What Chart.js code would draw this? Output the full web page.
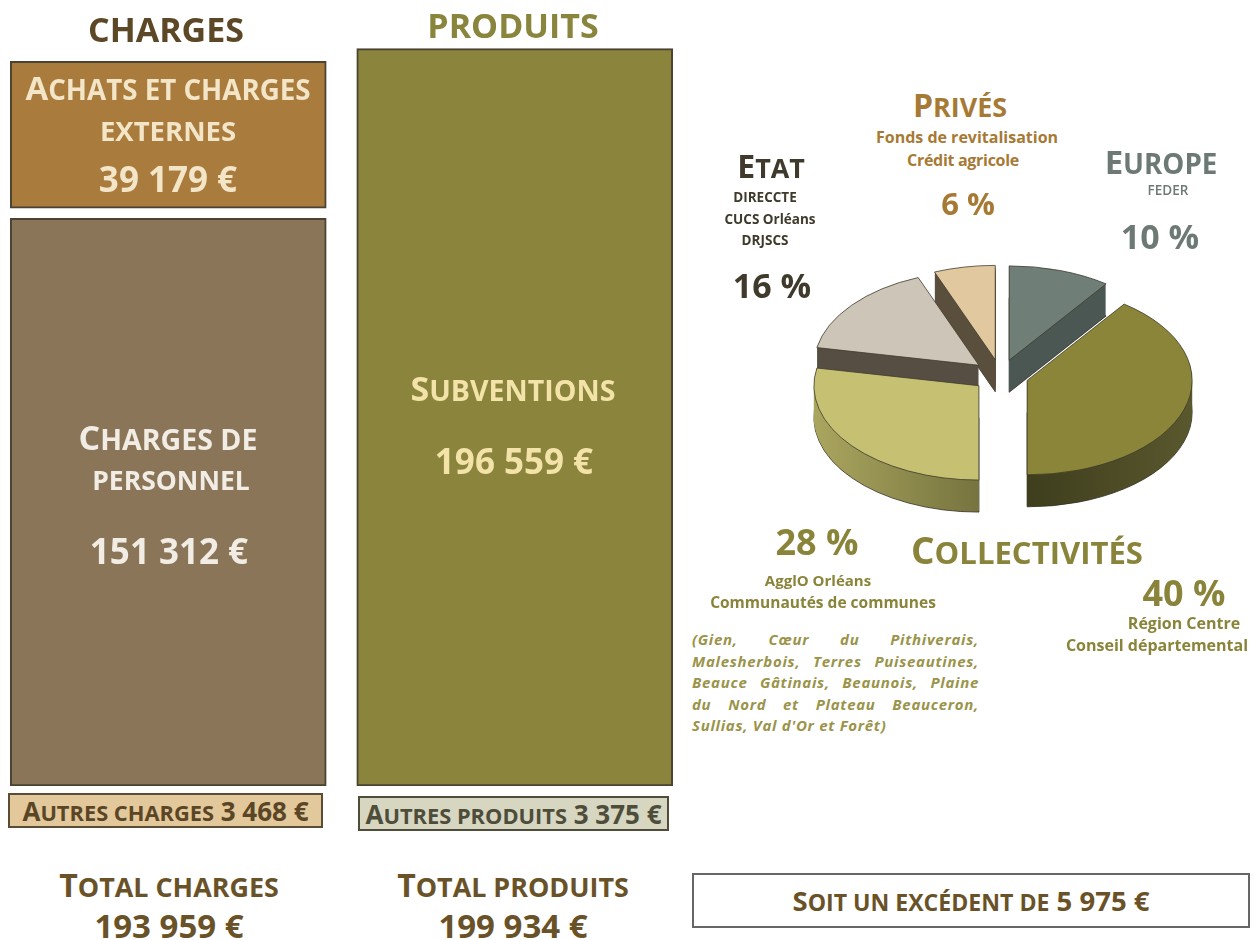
<!DOCTYPE html>
<html lang="fr">
<head>
<meta charset="UTF-8">
<title>Charges et produits</title>
<script src="https://cdn.jsdelivr.net/npm/chart.js"></script>
<style>
  html, body { margin: 0; padding: 0; background: #fff; }
  body { width: 1254px; height: 940px; position: relative; overflow: hidden;
         font-family: 'Open Sans', 'DejaVu Sans', sans-serif; font-weight: 700; }
  canvas { position: absolute; }
  .t { position: absolute; transform: translate(-50%, -50%); white-space: nowrap; text-align: center; line-height: 1; z-index: 2; }
  .s { font-size: 0.84em; }
  .box { position: absolute; box-sizing: border-box; display: flex; align-items: center; justify-content: center; z-index: 2; }
  .head { font-size: 34px; }
  .big { font-size: 35px; }
  .small { font-size: 13.5px; }
  .para { position: absolute; left: 692px; top: 629px; width: 287px; font-size: 15px; font-style: italic;
          letter-spacing: 0.7px; line-height: 21.6px; color: #9a944a; z-index: 2; }
  .para div { text-align: justify; text-align-last: justify; white-space: nowrap; }
  .para div.last { text-align-last: left; }
</style>
</head>
<body>

<canvas id="bars" width="693" height="739" style="left:-5px;top:47px"></canvas>
<canvas id="pie" width="391" height="391" style="left:805px;top:180px"></canvas>

<!-- column headings -->
<div class="t head" style="left:166px;top:29px;color:#5c4826">CHARGES</div>
<div class="t head" style="left:513px;top:25px;color:#8a853c">PRODUITS</div>

<!-- bar labels -->
<div class="t" style="left:168px;top:87px;font-size:33px;color:#f3e5c8">A<span class="s">CHATS ET CHARGES</span></div>
<div class="t" style="left:168px;top:131px;font-size:27.5px;color:#f3e5c8">EXTERNES</div>
<div class="t big" style="left:168px;top:178px;color:#f3e5c8">39 179 €</div>

<div class="t" style="left:168px;top:437px;font-size:34px;color:#f1ede4">C<span class="s">HARGES DE</span></div>
<div class="t" style="left:171px;top:480px;font-size:26.5px;color:#f1ede4">PERSONNEL</div>
<div class="t big" style="left:169px;top:550px;color:#f1ede4">151 312 €</div>

<div class="t" style="left:513px;top:388px;font-size:34px;color:#f3e3a8">S<span class="s">UBVENTIONS</span></div>
<div class="t big" style="left:514px;top:460px;color:#f3e3a8">196 559 €</div>

<!-- other items -->
<div class="box" style="left:8px;top:793px;width:315px;height:35px;background:#e2c89b;border:2px solid #5a4c35;color:#5a4626;font-size:26px">
  <span>A<span class="s">UTRES CHARGES</span> 3 468 €</span></div>
<div class="box" style="left:358px;top:796px;width:311px;height:35px;background:#d6d6c1;border:2px solid #4d4d3a;color:#4d4d3a;font-size:26px">
  <span>A<span class="s">UTRES PRODUITS</span> 3 375 €</span></div>

<!-- totals -->
<div class="t" style="left:169px;top:885px;font-size:32px;color:#6a5228">T<span class="s">OTAL CHARGES</span></div>
<div class="t" style="left:169px;top:925px;font-size:33px;color:#6a5228">193 959 €</div>
<div class="t" style="left:513px;top:885px;font-size:32px;color:#6a5228">T<span class="s">OTAL PRODUITS</span></div>
<div class="t" style="left:513px;top:925px;font-size:33px;color:#6a5228">199 934 €</div>

<div class="box" style="left:692px;top:873px;width:558px;height:55px;border:2px solid #666;color:#6a5228;font-size:27.5px">
  <span>S<span class="s">OIT UN EXCÉDENT DE</span> 5 975 €</span></div>

<!-- pie labels -->
<div class="t head" style="left:960px;top:105px;font-size:32px;color:#a67a35">P<span class="s">RIVÉS</span></div>
<div class="t" style="left:967px;top:137px;font-size:16px;color:#a67a35">Fonds de revitalisation</div>
<div class="t" style="left:963px;top:160px;font-size:16px;letter-spacing:-0.3px;color:#a67a35">Crédit agricole</div>
<div class="t" style="left:968px;top:203px;font-size:31px;color:#a67a35">6 %</div>

<div class="t head" style="left:771px;top:166px;font-size:32px;color:#3f3a2b">E<span class="s">TAT</span></div>
<div class="t small" style="left:765px;top:198px;color:#3f3a2b">DIRECCTE</div>
<div class="t small" style="left:770px;top:220px;color:#3f3a2b">CUCS Orléans</div>
<div class="t small" style="left:765px;top:241px;color:#3f3a2b">DRJSCS</div>
<div class="t" style="left:772px;top:285px;font-size:34px;color:#3f3a2b">16 %</div>

<div class="t head" style="left:1161px;top:161px;font-size:33px;color:#6d7a74">E<span class="s">UROPE</span></div>
<div class="t small" style="left:1168px;top:191px;font-weight:600;color:#6d7a74">FEDER</div>
<div class="t" style="left:1160px;top:236px;font-size:34px;color:#6d7a74">10 %</div>

<div class="t" style="left:817px;top:542px;font-size:36px;color:#8a843a">28 %</div>
<div class="t head" style="left:1027px;top:550px;font-size:37px;color:#8a843a">C<span class="s">OLLECTIVITÉS</span></div>
<div class="t" style="left:1184px;top:593px;font-size:36px;color:#8a843a">40 %</div>
<div class="t" style="left:1184px;top:623px;font-size:16px;color:#8a843a">Région Centre</div>
<div class="t" style="left:1157px;top:645px;font-size:16px;color:#8a843a">Conseil départemental</div>
<div class="t" style="left:818px;top:580px;font-size:15px;color:#8a843a">AgglO Orléans</div>
<div class="t" style="left:823px;top:603px;font-size:15.5px;color:#8a843a">Communautés de communes</div>

<div class="para">
  <div>(Gien, Cœur du Pithiverais,</div>
  <div>Malesherbois, Terres Puiseautines,</div>
  <div>Beauce Gâtinais, Beaunois, Plaine</div>
  <div>du Nord et Plateau Beauceron,</div>
  <div class="last">Sullias, Val d'Or et Forêt)</div>
</div>

<script>
// bar data (euros)
const barCategories = ['Charges', 'Produits'];
const chargesLabels = ['Achats et charges externes', 'Charges de personnel'];
const chargesValues = [39179, 151312];
const produitsLabels = ['Subventions'];
const produitsValues = [196559];

// pie data (percent of subsidies)
const pieLabels = ['Europe', 'Collectivités (Région, Département)', 'Collectivités (AgglO, Communautés)', 'Etat', 'Privés'];
const pieValues = [10, 40, 28, 16, 6];

// styles
const barColors = ['#a97b3c', '#8b7559', '#8a843c'];
const pieTop = ['#6f7e77', '#8b8539', '#c6c073', '#cdc5b7', '#e1c89f'];
const wallLeft = ['#4b5752', '#1f1f0a', '#b3ae64', '#564e42', '#5a4f3c'];
const wallRight = ['#4b5752', '#5e5c30', '#3a3a1a', '#564e42', '#5a4f3c'];

const GAP = 2700; // white space between the two charge blocks, in axis units

// 1. CHARGES / PRODUITS BLOCKS
new Chart(document.getElementById('bars'), {
    type: 'bar',
    data: {
        labels: barCategories,
        datasets: [
            { label: chargesLabels[1], data: [[0, chargesValues[1]], null], backgroundColor: barColors[1] },
            { label: chargesLabels[0], data: [[chargesValues[1] + GAP, chargesValues[1] + GAP + chargesValues[0]], null], backgroundColor: barColors[0] },
            { label: produitsLabels[0], data: [null, [0, produitsValues[0]]], backgroundColor: barColors[2] }
        ].map(d => Object.assign(d, { grouped: false, borderColor: '#4a4232', borderWidth: 2, borderSkipped: false, barThickness: 316 }))
    },
    options: {
        responsive: false,
        animation: false,
        events: [],
        layout: { padding: 0 },
        scales: {
            x: { display: false },
            y: { display: false, min: 0, max: 197000 }
        },
        plugins: { legend: { display: false }, tooltip: { enabled: false } }
    }
});

// 2. PIE, tilted, exploded, with side walls
const pie3d = {
    id: 'pie3d',
    beforeDatasetsDraw(chart, args, opts) {
        const ctx = chart.ctx;
        const arcs = chart.getDatasetMeta(0).data;
        const cx = arcs[0].x, cy = arcs[0].y;
        const w = arcs[0].outerRadius + opts.explode;
        const shift = arc => {
            const a = (arc.startAngle + arc.endAngle) / 2;
            return [Math.cos(a) * opts.explode, Math.sin(a) * opts.explode];
        };
        ctx.save();
        ctx.translate(cx, cy);
        ctx.scale(1, opts.tilt);
        ctx.translate(-cx, -cy);
        const fills = arcs.map((a, i) => {
            const g = ctx.createLinearGradient(cx - w, 0, cx + w, 0);
            g.addColorStop(0, wallLeft[i]);
            g.addColorStop(1, wallRight[i]);
            return g;
        });
        // side walls, deepest layer first
        for (let d = opts.depth; d > 0; d--) {
            arcs.forEach((arc, i) => {
                const [dx, dy] = shift(arc);
                const o = arc.options;
                ctx.save();
                ctx.translate(dx, dy + d / opts.tilt);
                arc.options = Object.assign({}, o, {
                    backgroundColor: fills[i],
                    borderColor: d === opts.depth ? '#2e2b1e' : fills[i],
                    borderWidth: d === opts.depth ? 1 : 0
                });
                arc.draw(ctx);
                arc.options = o;
                ctx.restore();
            });
        }
        // top faces
        arcs.forEach(arc => {
            const [dx, dy] = shift(arc);
            ctx.save();
            ctx.translate(dx, dy);
            arc.draw(ctx);
            ctx.restore();
        });
        ctx.restore();
        return false;
    }
};

new Chart(document.getElementById('pie'), {
    type: 'pie',
    data: {
        labels: pieLabels,
        datasets: [{ data: pieValues, backgroundColor: pieTop, borderColor: '#3f3b2c', borderWidth: 1 }]
    },
    options: {
        responsive: false,
        animation: false,
        events: [],
        rotation: 0,
        layout: { padding: 30 },
        plugins: { legend: { display: false }, tooltip: { enabled: false }, pie3d: { tilt: 0.572, depth: 32, explode: 28 } }
    },
    plugins: [pie3d]
});
</script>
</body>
</html>
